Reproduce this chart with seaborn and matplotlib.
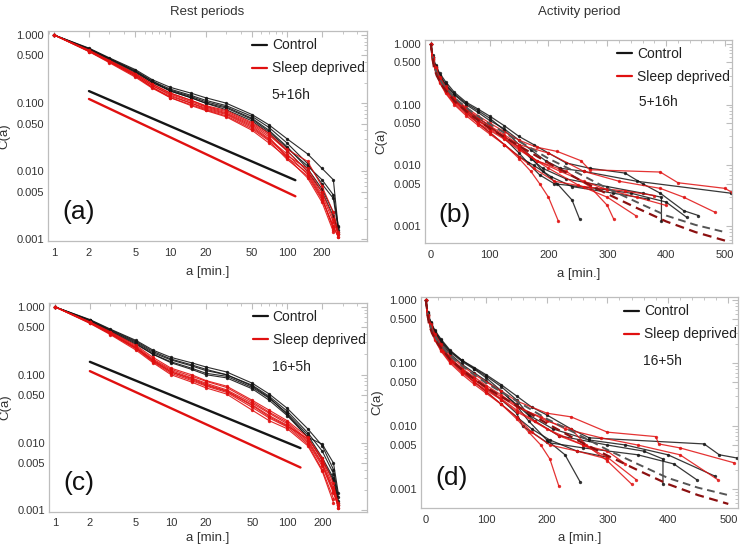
import numpy as np
import pandas as pd
import matplotlib

matplotlib.use('Agg')
import matplotlib.pyplot as plt
import seaborn as sns
from matplotlib.lines import Line2D
from matplotlib.ticker import FixedLocator, NullFormatter, LogLocator

# ---------------- data: rest periods (log-log) ----------------
rest_x = [1, 2, 3, 5, 7, 10, 15, 20, 30, 50, 70, 100, 150, 200, 250, 275]

rest_a_ctrl = [
    [1, 0.64, 0.46, 0.31, 0.22, 0.17, 0.14, 0.12, 0.10, 0.068, 0.048, 0.030, 0.018, 0.011, 0.0075, 0.0015],
    [1, 0.62, 0.45, 0.30, 0.21, 0.16, 0.13, 0.11, 0.092, 0.064, 0.044, 0.026, 0.013, 0.0065, 0.004, 0.0014],
    [1, 0.61, 0.44, 0.29, 0.20, 0.155, 0.125, 0.105, 0.088, 0.060, 0.040, 0.023, 0.011, 0.0055, 0.0025, 0.0012],
    [1, 0.63, 0.45, 0.29, 0.21, 0.15, 0.12, 0.10, 0.085, 0.058, 0.038, 0.022, 0.012, 0.0075, 0.0045, 0.0016],
    [1, 0.60, 0.43, 0.28, 0.20, 0.15, 0.12, 0.10, 0.080, 0.055, 0.036, 0.020, 0.010, 0.005, 0.0022, 0.0013],
]
rest_a_sd = [
    [1, 0.60, 0.42, 0.27, 0.19, 0.14, 0.11, 0.090, 0.075, 0.050, 0.034, 0.020, 0.010, 0.0045, 0.0018, 0.0012],
    [1, 0.58, 0.41, 0.26, 0.18, 0.13, 0.10, 0.085, 0.070, 0.046, 0.030, 0.018, 0.009, 0.004, 0.0015, 0.0011],
    [1, 0.59, 0.41, 0.26, 0.18, 0.135, 0.105, 0.088, 0.072, 0.048, 0.032, 0.016, 0.008, 0.0035, 0.0013, np.nan],
    [1, 0.57, 0.40, 0.25, 0.17, 0.125, 0.10, 0.082, 0.068, 0.044, 0.029, 0.017, 0.011, 0.005, 0.002, 0.0012],
    [1, 0.58, 0.40, 0.25, 0.17, 0.12, 0.095, 0.080, 0.065, 0.042, 0.028, 0.015, 0.0085, 0.0038, 0.0016, 0.0011],
    [1, 0.59, 0.42, 0.27, 0.19, 0.14, 0.11, 0.092, 0.078, 0.052, 0.036, 0.021, 0.014, 0.006, 0.0025, 0.0013],
    [1, 0.57, 0.39, 0.24, 0.165, 0.12, 0.092, 0.078, 0.063, 0.040, 0.026, 0.016, 0.0095, 0.0042, 0.0014, np.nan],
]
rest_c_ctrl = [
    [1, 0.65, 0.47, 0.32, 0.23, 0.18, 0.15, 0.13, 0.11, 0.075, 0.052, 0.032, 0.016, 0.009, 0.004, 0.0016],
    [1, 0.63, 0.45, 0.30, 0.21, 0.165, 0.135, 0.115, 0.10, 0.070, 0.048, 0.029, 0.014, 0.0075, 0.0035, 0.0014],
    [1, 0.62, 0.44, 0.29, 0.20, 0.155, 0.125, 0.105, 0.095, 0.065, 0.045, 0.027, 0.013, 0.006, 0.003, 0.0013],
    [1, 0.64, 0.46, 0.31, 0.22, 0.17, 0.14, 0.12, 0.10, 0.068, 0.046, 0.026, 0.012, 0.0095, 0.005, 0.0018],
    [1, 0.61, 0.43, 0.28, 0.20, 0.15, 0.12, 0.10, 0.090, 0.062, 0.042, 0.025, 0.012, 0.0055, 0.0028, 0.0012],
]
rest_c_sd = [
    [1, 0.60, 0.42, 0.26, 0.17, 0.12, 0.095, 0.080, 0.065, 0.040, 0.028, 0.020, 0.011, 0.005, 0.002, 0.0011],
    [1, 0.59, 0.41, 0.25, 0.16, 0.11, 0.088, 0.072, 0.058, 0.036, 0.025, 0.018, 0.010, 0.0045, 0.0018, 0.0012],
    [1, 0.58, 0.40, 0.24, 0.155, 0.105, 0.082, 0.068, 0.055, 0.033, 0.023, 0.017, 0.0095, 0.004, 0.0015, np.nan],
    [1, 0.60, 0.43, 0.27, 0.18, 0.125, 0.10, 0.082, 0.068, 0.042, 0.030, 0.021, 0.012, 0.0055, 0.0022, 0.0013],
    [1, 0.57, 0.39, 0.23, 0.15, 0.10, 0.078, 0.064, 0.052, 0.030, 0.021, 0.016, 0.009, 0.0038, 0.0013, np.nan],
    [1, 0.59, 0.41, 0.25, 0.165, 0.115, 0.090, 0.075, 0.060, 0.038, 0.027, 0.019, 0.0105, 0.0048, 0.0019, 0.0011],
    [1, 0.58, 0.40, 0.245, 0.16, 0.11, 0.085, 0.070, 0.057, 0.035, 0.024, 0.0175, 0.0115, 0.006, 0.0025, 0.0012],
]
# power-law guide lines (endpoints)
guide_a_x = [2, 118]
guide_a_ctrl = [0.15, 0.0074]
guide_a_sd = [0.115, 0.0043]
guide_c_x = [2, 130]
guide_c_ctrl = [0.155, 0.0083]
guide_c_sd = [0.113, 0.0043]

# ---------------- data: activity periods (lin-log) ----------------
act_head_x = [0, 3, 8, 15, 25, 40, 60, 80, 100, 125, 150]

act_b_ctrl = [
    ([1, 0.65, 0.45, 0.33, 0.24, 0.16, 0.11, 0.085, 0.065, 0.045, 0.030],
     [175, 200, 230, 270, 330, 360, 390, 430, 455],
     [0.022, 0.016, 0.011, 0.009, 0.0075, 0.005, 0.0035, 0.0018, 0.0015]),
    ([1, 0.60, 0.42, 0.30, 0.21, 0.145, 0.10, 0.075, 0.055, 0.040, 0.026],
     [170, 195, 220, 260, 350, 510],
     [0.018, 0.012, 0.009, 0.008, 0.0055, 0.0035]),
    ([1, 0.62, 0.43, 0.31, 0.22, 0.15, 0.105, 0.080, 0.060, 0.038, 0.022],
     [170, 190, 215, 240, 253],
     [0.014, 0.008, 0.005, 0.0027, 0.0013]),
    ([1, 0.58, 0.40, 0.28, 0.19, 0.12, 0.080, 0.055, 0.042, 0.030, 0.020],
     [170, 190, 230, 300, 360, 392, 392],
     [0.013, 0.009, 0.006, 0.0045, 0.0035, 0.003, 0.0012]),
    ([1, 0.60, 0.41, 0.29, 0.20, 0.13, 0.085, 0.060, 0.045, 0.028, 0.016],
     [165, 185, 210, 280, 340, 400, 435],
     [0.011, 0.007, 0.005, 0.0042, 0.0035, 0.0025, 0.0014]),
    ([1, 0.57, 0.39, 0.27, 0.18, 0.12, 0.075, 0.050, 0.035, 0.022, 0.014],
     [175, 205, 240, 310, 370],
     [0.010, 0.0065, 0.0045, 0.0035, 0.0028]),
]
act_b_sd = [
    ([1, 0.55, 0.37, 0.25, 0.17, 0.11, 0.075, 0.050, 0.035, 0.022, 0.013],
     [170, 185, 200, 217], [0.008, 0.005, 0.003, 0.0012]),
    ([1, 0.57, 0.39, 0.27, 0.18, 0.12, 0.080, 0.057, 0.042, 0.030, 0.020],
     [180, 230, 270, 300, 311], [0.012, 0.008, 0.0045, 0.0022, 0.0013]),
    ([1, 0.54, 0.36, 0.24, 0.16, 0.105, 0.070, 0.050, 0.038, 0.027, 0.018],
     [200, 250, 300, 348], [0.009, 0.0048, 0.003, 0.0015]),
    ([1, 0.58, 0.40, 0.28, 0.19, 0.125, 0.085, 0.062, 0.045, 0.032, 0.022],
     [200, 260, 320, 390, 430, 483], [0.016, 0.008, 0.0055, 0.0042, 0.003, 0.0017]),
    ([1, 0.60, 0.41, 0.29, 0.20, 0.13, 0.090, 0.066, 0.050, 0.036, 0.026],
     [180, 215, 255, 270, 390, 420, 500, 512], [0.020, 0.017, 0.012, 0.0085, 0.0078, 0.0052, 0.0042, 0.0036]),
    ([1, 0.56, 0.38, 0.26, 0.175, 0.115, 0.078, 0.055, 0.040, 0.028, 0.019],
     [180, 220, 260, 300, 350, 400], [0.012, 0.008, 0.0055, 0.004, 0.003, 0.0022]),
    ([1, 0.53, 0.35, 0.23, 0.155, 0.10, 0.066, 0.046, 0.033, 0.022, 0.014],
     [175, 210, 260, 330, 380], [0.009, 0.0055, 0.0045, 0.0038, 0.0032]),
]
act_d_ctrl = [
    ([1, 0.64, 0.45, 0.33, 0.24, 0.16, 0.11, 0.085, 0.065, 0.045, 0.030],
     [175, 200, 240, 270, 460, 485, 515], [0.020, 0.015, 0.009, 0.0065, 0.0052, 0.0035, 0.0031]),
    ([1, 0.61, 0.43, 0.31, 0.22, 0.15, 0.105, 0.080, 0.058, 0.036, 0.021],
     [170, 200, 230, 255], [0.012, 0.006, 0.0035, 0.0013]),
    ([1, 0.60, 0.42, 0.30, 0.21, 0.14, 0.095, 0.070, 0.052, 0.035, 0.022],
     [180, 220, 300, 360, 392, 392], [0.012, 0.007, 0.005, 0.004, 0.003, 0.0012]),
    ([1, 0.62, 0.44, 0.32, 0.23, 0.155, 0.11, 0.082, 0.062, 0.042, 0.026],
     [170, 210, 270, 330, 400, 478], [0.015, 0.009, 0.006, 0.005, 0.0035, 0.0016]),
    ([1, 0.58, 0.40, 0.28, 0.19, 0.12, 0.080, 0.055, 0.040, 0.026, 0.016],
     [160, 200, 260, 350, 410, 448], [0.010, 0.0055, 0.0045, 0.0035, 0.0025, 0.0014]),
    ([1, 0.57, 0.39, 0.27, 0.18, 0.115, 0.075, 0.050, 0.035, 0.022, 0.014],
     [175, 205, 250, 300], [0.009, 0.006, 0.004, 0.0032]),
]
act_d_sd = [
    ([1, 0.55, 0.37, 0.25, 0.17, 0.11, 0.074, 0.050, 0.035, 0.022, 0.013],
     [170, 190, 205, 220], [0.008, 0.005, 0.003, 0.0011]),
    ([1, 0.57, 0.39, 0.27, 0.18, 0.12, 0.082, 0.060, 0.044, 0.031, 0.021],
     [200, 240, 265, 300, 340], [0.012, 0.009, 0.005, 0.0028, 0.0012]),
    ([1, 0.54, 0.36, 0.24, 0.16, 0.105, 0.070, 0.050, 0.037, 0.026, 0.017],
     [200, 260, 300, 348], [0.009, 0.005, 0.0032, 0.0014]),
    ([1, 0.59, 0.41, 0.29, 0.20, 0.13, 0.090, 0.066, 0.050, 0.036, 0.025],
     [200, 240, 300, 380, 385, 420, 510], [0.016, 0.014, 0.008, 0.0068, 0.0052, 0.0045, 0.0026]),
    ([1, 0.57, 0.38, 0.26, 0.175, 0.115, 0.078, 0.056, 0.041, 0.029, 0.020],
     [190, 230, 290, 350, 420, 483], [0.014, 0.009, 0.0065, 0.005, 0.0035, 0.0014]),
    ([1, 0.56, 0.38, 0.26, 0.17, 0.11, 0.076, 0.054, 0.039, 0.027, 0.018],
     [180, 220, 260, 300, 330], [0.012, 0.007, 0.005, 0.004, 0.0025]),
    ([1, 0.53, 0.35, 0.23, 0.155, 0.10, 0.066, 0.046, 0.033, 0.022, 0.014],
     [175, 205, 250, 300], [0.008, 0.005, 0.004, 0.003]),
]
# fitted curves (dashed)
fit_x = [0, 5, 10, 20, 40, 60, 80, 100, 150, 200, 250, 300, 350, 400, 450, 500]
fit_ctrl = [1.0, 0.45, 0.33, 0.22, 0.13, 0.09, 0.065, 0.048, 0.025, 0.013, 0.0075, 0.0042, 0.0025, 0.0015, 0.00105, 0.0008]
fit_sd = [1.0, 0.42, 0.30, 0.20, 0.115, 0.078, 0.056, 0.041, 0.021, 0.011, 0.006, 0.0034, 0.002, 0.0012, 0.0008, 0.00058]

CTRL = '#151515'
SD = '#e01010'
FIT_SD = '#8b1010'
FRAME = '#bdbdbd'
TXT = '#333333'

sns.set_theme(style='white')
plt.rcParams['font.family'] = ['Liberation Sans', 'DejaVu Sans']


def rest_frame(curves_ctrl, curves_sd):
    rows = []
    for group, curves in (('Control', curves_ctrl), ('Sleep deprived', curves_sd)):
        for k, ys in enumerate(curves):
            for x, y in zip(rest_x, ys):
                rows.append((x, y, group, f'{group}{k}'))
    return pd.DataFrame(rows, columns=['a', 'C', 'group', 'unit']).dropna()


def act_frame(curves_ctrl, curves_sd):
    rows = []
    for group, curves in (('Control', curves_ctrl), ('Sleep deprived', curves_sd)):
        for k, (head, tx, ty) in enumerate(curves):
            for x, y in zip(act_head_x + tx, head + ty):
                rows.append((x, y, group, f'{group}{k}'))
    return pd.DataFrame(rows, columns=['a', 'C', 'group', 'unit'])


def style_axes(ax, xpad, labelpad):
    for s in ax.spines.values():
        s.set_color(FRAME)
        s.set_linewidth(0.9)
    ax.tick_params(which='both', direction='in', top=True, right=True,
                   color=FRAME, labelcolor=TXT, labelsize=8)
    ax.tick_params(axis='x', which='both', pad=xpad)
    ax.tick_params(axis='y', which='both', pad=3)
    ax.tick_params(which='major', length=4, width=0.8)
    ax.tick_params(which='minor', length=2, width=0.6)
    ax.set_ylabel('C(a)', fontsize=9.5, color=TXT, labelpad=4)
    ax.set_xlabel('a [min.]', fontsize=9.5, color=TXT, labelpad=labelpad)


yticks = [1, 0.5, 0.1, 0.05, 0.01, 0.005, 0.001]
ylabels = ['1.000', '0.500', '0.100', '0.050', '0.010', '0.005', '0.001']
pal = {'Control': CTRL, 'Sleep deprived': SD}


def legend(ax, anchor, note):
    handles = [Line2D([], [], color=CTRL, lw=1.6), Line2D([], [], color=SD, lw=1.6)]
    ax.legend(handles, ['Control', 'Sleep deprived'], loc='upper left', bbox_to_anchor=anchor,
              frameon=False, fontsize=10, handlelength=1.1, handletextpad=0.35,
              labelspacing=0.65, borderpad=0, borderaxespad=0, labelcolor='#222222')
    ax.text(anchor[0] + 0.06, anchor[1] - 0.27, note, transform=ax.transAxes,
            fontsize=10, color='#222222', va='center')


fig = plt.figure(figsize=(7.44, 5.5), dpi=100)

panels = [
    ('(a)', [0.0645, 0.5618, 0.4288, 0.3818], 'rest', rest_a_ctrl, rest_a_sd,
     (guide_a_x, guide_a_ctrl, guide_a_sd), '5+16h', (0.64, 0.965), 5, 6),
    ('(b)', [0.5712, 0.5582, 0.4127, 0.3690], 'act', act_b_ctrl, act_b_sd, None, ' 5+16h',
     (0.625, 0.965), 5, 6),
    ('(c)', [0.0659, 0.0691, 0.4274, 0.3800], 'rest', rest_c_ctrl, rest_c_sd,
     (guide_c_x, guide_c_ctrl, guide_c_sd), '16+5h', (0.64, 0.965), 4, 3),
    ('(d)', [0.5659, 0.0764, 0.4260, 0.3836], 'act', act_d_ctrl, act_d_sd, None, '16+5h',
     (0.64, 0.965), 5, 5),
]

for tag, rect, kind, cc, ss, guide, note, anchor, xpad, lpad in panels:
    ax = fig.add_axes(rect)
    if kind == 'rest':
        df = rest_frame(cc, ss)
        sns.lineplot(data=df, x='a', y='C', hue='group', units='unit', estimator=None,
                     palette=pal, marker='o', markersize=2.4, markeredgewidth=0,
                     linewidth=0.8, alpha=0.9, legend=False, ax=ax)
        gx, gc, gs = guide
        ax.plot(gx, gc, color=CTRL, lw=1.7)
        ax.plot(gx, gs, color=SD, lw=1.7)
        ax.set_xscale('log')
        ax.set_yscale('log')
        ax.set_xlim(0.89, 486)
        ax.set_ylim(0.00095, 1.14)
        ax.xaxis.set_major_locator(FixedLocator([1, 2, 5, 10, 20, 50, 100, 200]))
        ax.set_xticklabels(['1', '2', '5', '10', '20', '50', '100', '200'])
        ax.xaxis.set_minor_locator(LogLocator(base=10, subs=np.arange(2, 10)))
        ax.xaxis.set_minor_formatter(NullFormatter())
    else:
        df = act_frame(cc, ss)
        sns.lineplot(data=df, x='a', y='C', hue='group', units='unit', estimator=None,
                     sort=False, palette=pal, marker='o', markersize=2.4, markeredgewidth=0,
                     linewidth=0.9, alpha=0.85, legend=False, ax=ax)
        ax.plot(fit_x, fit_ctrl, color='#555555', lw=1.4, ls=(0, (4, 2.5)))
        ax.plot(fit_x, fit_sd, color=FIT_SD, lw=1.6, ls=(0, (4, 2.5)))
        ax.set_yscale('log')
        if tag == '(b)':
            ax.set_xlim(-10, 512)
            ax.set_ylim(0.00053, 1.16)
        else:
            ax.set_xlim(-8, 516)
            ax.set_ylim(0.0005, 1.12)
        ax.set_xticks([0, 100, 200, 300, 400, 500])
        ax.xaxis.set_minor_locator(FixedLocator(np.arange(0, 520, 20)))
    ax.yaxis.set_major_locator(FixedLocator(yticks))
    ax.set_yticklabels(ylabels)
    ax.yaxis.set_minor_locator(LogLocator(base=10, subs=np.arange(2, 10)))
    ax.yaxis.set_minor_formatter(NullFormatter())
    style_axes(ax, xpad, lpad)
    ax.text(0.045, 0.14, tag, transform=ax.transAxes, fontsize=19, color='#111111', va='center')
    legend(ax, anchor, note)

fig.text(0.278, 0.99, 'Rest periods', ha='center', va='top', fontsize=9.5, color=TXT)
fig.text(0.778, 0.99, 'Activity period', ha='center', va='top', fontsize=9.5, color=TXT)

fig.savefig('out.png', dpi=100)
